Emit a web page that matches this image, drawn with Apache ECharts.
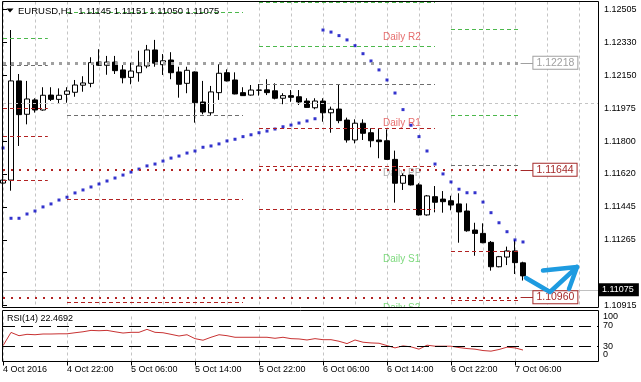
<!DOCTYPE html>
<html><head><meta charset="utf-8">
<script src="https://cdn.jsdelivr.net/npm/echarts@6/dist/echarts.min.js"></script>
<style>html,body{margin:0;padding:0;background:#fff}#c{width:641px;height:382px}</style>
</head><body><div id="c"></div>
<script>
// ---- data ----
const tickLabels = ["4 Oct 2016","4 Oct 22:00","5 Oct 06:00","5 Oct 14:00","5 Oct 22:00","6 Oct 06:00","6 Oct 14:00","6 Oct 22:00","7 Oct 06:00"];
const tickBars = [0,8,16,24,32,40,48,56,64];
const openP  = [1.11573,1.11589,1.12121,1.11942,1.12019,1.11965,1.12045,1.12022,1.12049,1.12060,1.12098,1.12108,1.12222,1.12205,1.12222,1.12180,1.12140,1.12165,1.12201,1.12287,1.12208,1.12233,1.12169,1.12108,1.12169,1.12008,1.11950,1.12058,1.12165,1.12126,1.12058,1.12045,1.12072,1.12073,1.12068,1.12028,1.12042,1.12036,1.12013,1.11977,1.12013,1.11950,1.11970,1.11911,1.11804,1.11894,1.11843,1.11804,1.11800,1.11700,1.11572,1.11616,1.11563,1.11402,1.11500,1.11487,1.11478,1.11461,1.11423,1.11321,1.11303,1.11255,1.11124,1.11176,1.11209,1.11145];
const closeP = [1.11589,1.12121,1.11940,1.12024,1.11965,1.12044,1.12022,1.12044,1.12067,1.12099,1.12110,1.12219,1.12205,1.12222,1.12176,1.12138,1.12174,1.12201,1.12287,1.12216,1.12229,1.12165,1.12103,1.12178,1.12004,1.11954,1.12062,1.12162,1.12121,1.12051,1.12042,1.12072,1.12071,1.12058,1.12028,1.12042,1.12033,1.12008,1.11979,1.12013,1.11950,1.11969,1.11908,1.11804,1.11894,1.11840,1.11800,1.11795,1.11700,1.11572,1.11613,1.11563,1.11402,1.11504,1.11470,1.11473,1.11455,1.11418,1.11317,1.11303,1.11253,1.11124,1.11178,1.11209,1.11146,1.11075];
const lowP   = [1.11386,1.11532,1.11772,1.11888,1.11951,1.11961,1.12013,1.12001,1.12004,1.12036,1.12063,1.12087,1.12201,1.12154,1.12158,1.12108,1.12103,1.12117,1.12189,1.12197,1.12153,1.12130,1.12031,1.12055,1.11897,1.11942,1.11938,1.12019,1.12118,1.12049,1.12040,1.12042,1.12042,1.12045,1.12022,1.11996,1.12009,1.11992,1.11978,1.11969,1.11902,1.11843,1.11894,1.11790,1.11786,1.11804,1.11765,1.11706,1.11697,1.11468,1.11536,1.11560,1.11399,1.11398,1.11416,1.11414,1.11427,1.11253,1.11312,1.11183,1.11250,1.11103,1.11121,1.11133,1.11085,1.11050];
const highP  = [1.11611,1.12394,1.12158,1.12121,1.12028,1.12087,1.12087,1.12081,1.12087,1.12126,1.12146,1.12248,1.12291,1.12255,1.12255,1.12206,1.12219,1.12283,1.12314,1.12341,1.12265,1.12275,1.12197,1.12197,1.12172,1.12121,1.12094,1.12210,1.12183,1.12167,1.12087,1.12099,1.12104,1.12130,1.12108,1.12055,1.12072,1.12072,1.12028,1.12028,1.12028,1.11983,1.12099,1.11924,1.11915,1.11915,1.11867,1.11867,1.11861,1.11747,1.11625,1.11619,1.11572,1.11509,1.11557,1.11530,1.11505,1.11518,1.11464,1.11360,1.11357,1.11262,1.11182,1.11232,1.11268,1.11151];
const sarP   = [1.11761,1.11384,1.11384,1.11407,1.11423,1.11445,1.11461,1.11482,1.11497,1.11520,1.11536,1.11552,1.11568,1.11584,1.11600,1.11616,1.11632,1.11648,1.11665,1.11675,1.11691,1.11707,1.11718,1.11734,1.11745,1.11765,1.11772,1.11783,1.11799,1.11808,1.11822,1.11832,1.11843,1.11852,1.11863,1.11875,1.11884,1.11895,1.11906,1.11918,1.12394,1.12383,1.12364,1.12341,1.12310,1.12267,1.12228,1.12180,1.12126,1.12056,1.11967,1.11883,1.11822,1.11745,1.11675,1.11622,1.11579,1.11540,1.11521,1.11521,1.11471,1.11414,1.11360,1.11312,1.11268,1.11257];
const rsiV   = [31,57,50.6,53.3,52.5,53.9,53.9,54.3,54.3,56.4,58.3,61,60.3,61,58.3,55.8,57.2,57.2,63,57.2,56.4,53.3,50,52.5,44.8,41.7,47.5,52.5,50.6,47.5,47.5,47.5,47.5,47.5,45.5,47.5,44.8,44.2,42.2,44.8,42.8,42.8,39.7,35.1,42.2,37.8,36.4,35.8,31.2,26.7,30.6,28.7,24.2,32,30,30,30,27.3,25.4,24.2,21.5,20.3,23.5,28.1,26.7,22.4692];
const priceTicks = [1.109152,1.110919,1.112685,1.114452,1.116219,1.117985,1.119752,1.121519,1.123285,1.125052];
const priceTickLabels = ["1.10915","","1.11265","1.11445","1.11620","1.11800","1.11975","1.12150","1.12330","1.12505"];
const rsiTicks = [0,30,70,100];
const rsiLevels = [30,70];
const pivotStart = [0,8,32,56];
const pivotEnd   = [5.6,30,54,64.6];
const pivotR2 = [null,null,1.12541,1.12398];
const pivotR1 = [1.12350,1.12492,1.12305,1.11938];
const pivotPP = [1.12206,1.11938,1.12104,1.11670];
const pivotS1 = [1.11972,1.11486,1.11867,1.11209];
const pivotS2 = [1.11824,1.10933,1.11665,1.10942];
const pivotS3 = [1.11586,null,1.11432,null];
const keyLevels = [1.12218,1.11644,1.10960];
const bidPrice = 1.11075;
const titleText = "EURUSD,H1  1.11145 1.11151 1.11050 1.11075";
const rsiTitle = "RSI(14) 22.4692";

// ---- styles ----
const FONT = '"Liberation Sans", Arial, sans-serif';
const GRID_C = '#c4c4c4';
const R_C = '#4cb84c', PP_C = '#6e6e6e', S_C = '#b22222';

const candleData = openP.map((o,i)=>[i,o,closeP[i],lowP[i],highP[i]]);
const sarData = sarP.map((v,i)=>[i,v]);
const rsiData = rsiV.map((v,i)=>[i,v]);

function seg(s,e,v,style){ return [{coord:[s,v], lineStyle:style},{coord:[e,v]}]; }
const pivotLines = [];
for (let d=0; d<pivotStart.length; d++){
  const s=pivotStart[d], e=pivotEnd[d];
  [[pivotR2,R_C],[pivotR1,R_C],[pivotPP,PP_C],[pivotS1,S_C],[pivotS2,S_C],[pivotS3,S_C]].forEach(([arr,c])=>{
    if (arr[d]!=null) pivotLines.push(seg(s,e,arr[d],{color:c,type:[4,3],width:1}));
  });
}
const keyStyles = [
  {dot:{color:'#a0a0a0',width:3,type:[3,5]}, c:'#a0a0a0'},
  {dot:{color:'#b22222',width:2,type:[2,6]}, c:'#a52a2a'},
  {dot:{color:'#b22222',width:2,type:[2,6]}, c:'#a52a2a'}
];
const keyLines = [];
keyLevels.forEach((v,i)=>{
  const ks = keyStyles[i];
  keyLines.push([{coord:[0,v], lineStyle:ks.dot, label:{show:false}},{coord:[64.7,v]}]);
  keyLines.push([{coord:[64.7,v], lineStyle:{color:ks.c,width:1,type:'solid'},
    label:{show:true, position:'end', distance:0, formatter:v.toFixed(5), color:ks.c, fontFamily:FONT, fontSize:10.5,
      backgroundColor:'#fff', borderColor:ks.c, borderWidth:1, padding:[1,3,0,3]}},{coord:[66.3,v]}]);
});

const lab = (v,t,c)=>({value:[47.5,v,t], label:{color:c}});
const pivotLabelData = [
  lab(pivotR2[3],'Daily R2','#e04848'),
  lab(pivotR1[3],'Daily R1','#e04848'),
  lab(pivotPP[3],'Daily PP','#9a9a9a'),
  lab(pivotS1[3],'Daily S1','#5cd05c'),
  lab(pivotS2[3],'Daily S2','#5cd05c')
];

function nearestIdx(arr,v){let b=0;for(let i=1;i<arr.length;i++){if(Math.abs(arr[i]-v)<Math.abs(arr[b]-v))b=i;}return b;}

const chart = echarts.init(document.getElementById('c'), null, {renderer:'canvas'});
chart.setOption({
  animation:false,
  backgroundColor:'#fff',
  grid:[
    {left:3, right:43, top:1.5, height:306, containLabel:false, outerBoundsMode:'none'},
    {left:3, right:43, top:310.5, height:51, containLabel:false, outerBoundsMode:'none'}
  ],
  xAxis:[
    {type:'value', gridIndex:0, min:0, max:74.375, interval:4,
     axisLine:{show:false}, axisTick:{show:false}, axisLabel:{show:false},
     splitLine:{show:true, lineStyle:{color:GRID_C, type:[3,3], width:1}}},
    {type:'value', gridIndex:1, min:0, max:74.375, interval:4,
     axisLine:{show:false},
     axisTick:{show:true, customValues:tickBars, length:4, lineStyle:{color:'#000'}},
     axisLabel:{show:true, customValues:tickBars, formatter:(v)=>tickLabels[nearestIdx(tickBars,v)],
       align:'left', color:'#000', fontFamily:FONT, fontSize:9, margin:4},
     splitLine:{show:true, lineStyle:{color:GRID_C, type:[3,3], width:1}}}
  ],
  yAxis:[
    {type:'value', gridIndex:0, position:'right', min:1.109054, max:1.125470, scale:true,
     axisLine:{show:false},
     axisTick:{show:true, customValues:priceTicks, length:4, lineStyle:{color:'#000'}},
     axisLabel:{show:true, customValues:priceTicks, formatter:(v)=>priceTickLabels[nearestIdx(priceTicks,v)],
       color:'#000', fontFamily:FONT, fontSize:9, margin:6},
     splitLine:{show:false}},
    {type:'value', gridIndex:1, position:'right', min:0, max:100,
     axisLine:{show:false},
     axisTick:{show:true, customValues:rsiTicks, length:4, lineStyle:{color:'#000'}},
     axisLabel:{show:true, customValues:rsiTicks,
       formatter:(v)=> v===100?'{t|100}':(v===0?'{b|0}':String(v)),
       rich:{t:{padding:[13,0,0,0],fontSize:9,fontFamily:FONT,color:'#000'},
             b:{padding:[0,0,13,0],fontSize:9,fontFamily:FONT,color:'#000'}},
       color:'#000', fontFamily:FONT, fontSize:9, margin:5},
     splitLine:{show:false}}
  ],
  series:[
    {name:'hgrid', type:'line', xAxisIndex:0, yAxisIndex:0, data:[], z:0, silent:true,
     markLine:{silent:true, symbol:['none','none'], label:{show:false}, animation:false,
       lineStyle:{color:GRID_C, type:[3,3], width:1}, data:priceTicks.map(v=>({yAxis:v}))}},
    {name:'bid', type:'line', xAxisIndex:0, yAxisIndex:0, data:[], z:1, silent:true,
     markLine:{silent:true, symbol:['none','none'], animation:false,
       lineStyle:{color:'#c0c0c0', type:'solid', width:1},
       label:{show:true, position:'end', distance:0, formatter:bidPrice.toFixed(5), color:'#fff',
         backgroundColor:'#000', fontFamily:FONT, fontSize:9, padding:[2,5,2,4]},
       data:[{yAxis:bidPrice}]}},
    {name:'pivots', type:'line', xAxisIndex:0, yAxisIndex:0, data:[], z:1, silent:true,
     markLine:{silent:true, symbol:['none','none'], label:{show:false}, animation:false, data:pivotLines}},
    {name:'levels', type:'line', xAxisIndex:0, yAxisIndex:0, data:[], z:1, silent:true,
     markLine:{silent:true, symbol:['none','none'], animation:false, data:keyLines}},
    {name:'pivotLabels', type:'scatter', xAxisIndex:0, yAxisIndex:0, symbolSize:0, z:2, silent:true,
     data:pivotLabelData,
     label:{show:true, position:'right', distance:0, offset:[0,8], formatter:(p)=>p.value[2],
       fontFamily:FONT, fontSize:10}},
    {name:'EURUSD', type:'candlestick', xAxisIndex:0, yAxisIndex:0, data:candleData,
     encode:{x:0, y:[1,2,3,4]}, barWidth:5, z:3,
     itemStyle:{color:'#fff', color0:'#000', borderColor:'#000', borderColor0:'#000', borderColorDoji:'#000', borderWidth:1}},
    {name:'SAR', type:'scatter', xAxisIndex:0, yAxisIndex:0, data:sarData, symbol:'rect', symbolSize:3, z:4,
     itemStyle:{color:'#0000c0'}},
    {name:'RSI', type:'line', xAxisIndex:1, yAxisIndex:1, data:rsiData, showSymbol:false, z:3,
     lineStyle:{color:'#c83232', width:1},
     markLine:{silent:true, symbol:['none','none'], label:{show:false}, animation:false,
       lineStyle:{color:'#000', type:[12,6], width:1}, data:rsiLevels.map(v=>({yAxis:v}))}}
  ],
  graphic:[
    {type:'rect', z:50, shape:{x:3, y:308, width:595, height:6}, style:{fill:'#fff'}},
    {type:'rect', z:60, shape:{x:2.5, y:1.5, width:596, height:306}, style:{fill:null, stroke:'#000', lineWidth:1}},
    {type:'rect', z:60, shape:{x:2.5, y:310.5, width:596, height:51}, style:{fill:null, stroke:'#000', lineWidth:1}},
    {type:'polygon', z:60, shape:{points:[[6.5,8.5],[13.5,8.5],[10,12.5]]}, style:{fill:'#000'}},
    {type:'text', z:60, x:18, y:11, style:{text:titleText, fill:'#000', font:'9.5px '+FONT, verticalAlign:'middle'}},
    {type:'text', z:60, x:7, y:319, style:{text:rsiTitle, fill:'#000', font:'9px '+FONT, verticalAlign:'middle'}},
    {type:'polyline', z:60, shape:{points:[[526,278],[550,292],[577,267]]},
     style:{stroke:'#1e9be0', lineWidth:4.5, fill:null, lineJoin:'round', lineCap:'round'}},
    {type:'polyline', z:60, shape:{points:[[543,270.5],[577,267],[569,289]]},
     style:{stroke:'#1e9be0', lineWidth:4.5, fill:null, lineJoin:'round', lineCap:'round'}}
  ]
});
</script></body></html>
